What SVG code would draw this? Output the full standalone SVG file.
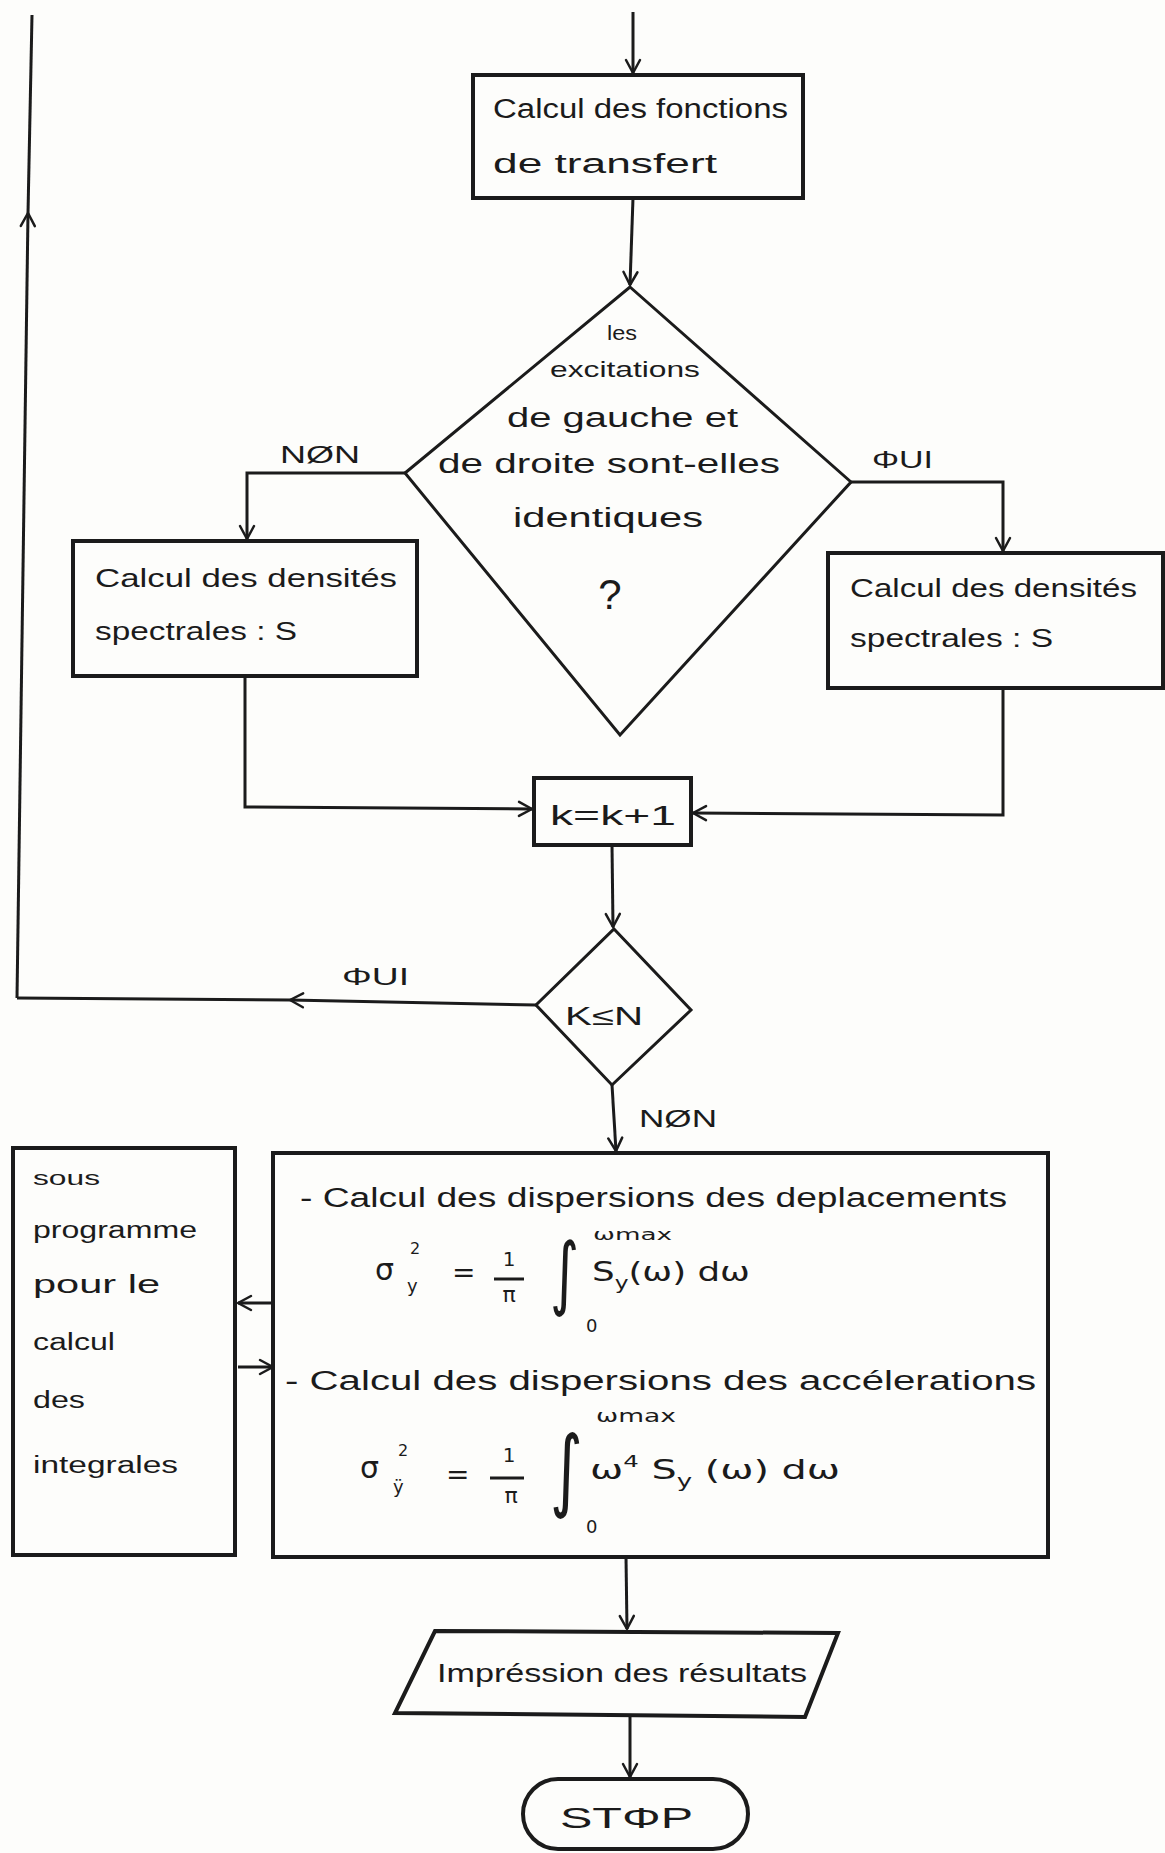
<svg xmlns="http://www.w3.org/2000/svg" width="1165" height="1853" viewBox="0 0 1165 1853">
<style>
.bg{fill:#fdfdfb}
.box{fill:none;stroke:#1b1b1b;stroke-width:4;stroke-linejoin:miter}
.dia{fill:none;stroke:#1b1b1b;stroke-width:3}
.c{fill:none;stroke:#1b1b1b;stroke-width:3}
.t{font-family:"Liberation Sans","DejaVu Sans",sans-serif;fill:#1b1b1b}
.m{font-family:"DejaVu Sans","Liberation Sans",sans-serif;fill:#1b1b1b}
.ah{fill:none;stroke:#1b1b1b;stroke-width:2.5;stroke-linecap:round;stroke-linejoin:round}
</style>
<defs>
<marker id="arr" viewBox="0 0 20 20" refX="18" refY="10" markerWidth="20" markerHeight="20" markerUnits="userSpaceOnUse" orient="auto">
<path class="ah" d="M5,3 L18,10 L5,17"/>
</marker>
</defs>
<rect class="bg" x="0" y="0" width="1165" height="1853"/>

<g id="connectors">
<path class="c" d="M633,12 L633,73" marker-end="url(#arr)"/>
<path class="c" d="M633,198 L630,285" marker-end="url(#arr)"/>
<path class="c" d="M405,473 L247,473 L247,539" marker-end="url(#arr)"/>
<path class="c" d="M851,482 L1003,482 L1003,551" marker-end="url(#arr)"/>
<path class="c" d="M245,676 L245,807 L532,809" marker-end="url(#arr)"/>
<path class="c" d="M1003,688 L1003,815 L693,813" marker-end="url(#arr)"/>
<path class="c" d="M612,845 L613,927" marker-end="url(#arr)"/>
<path class="c" d="M536,1005 L290,1000" marker-end="url(#arr)"/>
<path class="c" d="M290,1000 L17,998"/>
<path class="c" d="M17,998 L28,213" marker-end="url(#arr)"/>
<path class="c" d="M28,213 L32,15"/>
<path class="c" d="M612,1085 L616,1151" marker-end="url(#arr)"/>
<path class="c" d="M273,1303 L238,1303" marker-end="url(#arr)"/>
<path class="c" d="M238,1367 L273,1367" marker-end="url(#arr)"/>
<path class="c" d="M626,1557 L627,1629" marker-end="url(#arr)"/>
<path class="c" d="M630,1716 L630,1777" marker-end="url(#arr)"/>
</g>

<g id="n_transfert">
<rect class="box" x="473" y="75" width="330" height="123"/>
<text class="t" x="493" y="118" style="font-size:27px" textLength="295" lengthAdjust="spacingAndGlyphs">Calcul des fonctions</text>
<text class="t" x="493" y="173" style="font-size:27px" textLength="224" lengthAdjust="spacingAndGlyphs">de transfert</text>
</g>

<g id="n_question">
<path class="dia" d="M630,287 L851,482 L620,735 L405,473 Z"/>
<text class="t" x="622" y="340" text-anchor="middle" style="font-size:20px" textLength="30" lengthAdjust="spacingAndGlyphs">les</text>
<text class="t" x="625" y="377" text-anchor="middle" style="font-size:22px" textLength="150" lengthAdjust="spacingAndGlyphs">excitations</text>
<text class="t" x="507" y="427" style="font-size:27px" textLength="231" lengthAdjust="spacingAndGlyphs">de gauche et</text>
<text class="t" x="438" y="473" style="font-size:27px" textLength="342" lengthAdjust="spacingAndGlyphs">de droite sont-elles</text>
<text class="t" x="513" y="527" style="font-size:27px" textLength="190" lengthAdjust="spacingAndGlyphs">identiques</text>
<text class="t" x="610" y="609" text-anchor="middle" style="font-size:42px">?</text>
</g>

<g id="l_non1">
<text class="t" x="280" y="463" style="font-size:24px" textLength="80" lengthAdjust="spacingAndGlyphs">NØN</text>
</g>
<g id="l_oui1">
<text class="t" x="872" y="468" style="font-size:24px" textLength="61" lengthAdjust="spacingAndGlyphs">ΦUI</text>
</g>

<g id="n_densites_g">
<rect class="box" x="73" y="541" width="344" height="135"/>
<text class="t" x="95" y="587" style="font-size:26px" textLength="302" lengthAdjust="spacingAndGlyphs">Calcul des densités</text>
<text class="t" x="95" y="640" style="font-size:26px" textLength="202" lengthAdjust="spacingAndGlyphs">spectrales : S</text>
</g>

<g id="n_densites_d">
<rect class="box" x="828" y="553" width="335" height="135"/>
<text class="t" x="850" y="597" style="font-size:26px" textLength="287" lengthAdjust="spacingAndGlyphs">Calcul des densités</text>
<text class="t" x="850" y="647" style="font-size:26px" textLength="203" lengthAdjust="spacingAndGlyphs">spectrales : S</text>
</g>

<g id="n_k">
<rect class="box" x="534" y="778" width="157" height="67"/>
<text class="t" x="550" y="825" style="font-size:28px" textLength="126" lengthAdjust="spacingAndGlyphs">k=k+1</text>
</g>

<g id="n_kn">
<path class="dia" d="M614,929 L691,1010 L612,1085 L536,1005 Z"/>
<text class="t" x="565" y="1025" style="font-size:26px" textLength="78" lengthAdjust="spacingAndGlyphs">K≤N</text>
</g>

<g id="l_oui2">
<text class="t" x="342" y="985" style="font-size:24px" textLength="67" lengthAdjust="spacingAndGlyphs">ΦUI</text>
</g>
<g id="l_non2">
<text class="t" x="639" y="1127" style="font-size:24px" textLength="78" lengthAdjust="spacingAndGlyphs">NØN</text>
</g>

<g id="n_sousprog">
<rect class="box" x="13" y="1148" width="222" height="407"/>
<text class="t" x="33" y="1185" style="font-size:20px" textLength="67" lengthAdjust="spacingAndGlyphs">sous</text>
<text class="t" x="33" y="1238" style="font-size:23px" textLength="164" lengthAdjust="spacingAndGlyphs">programme</text>
<text class="t" x="33" y="1293" style="font-size:25px" textLength="127" lengthAdjust="spacingAndGlyphs">pour le</text>
<text class="t" x="33" y="1350" style="font-size:23px" textLength="82" lengthAdjust="spacingAndGlyphs">calcul</text>
<text class="t" x="33" y="1408" style="font-size:23px" textLength="52" lengthAdjust="spacingAndGlyphs">des</text>
<text class="t" x="33" y="1473" style="font-size:23px" textLength="145" lengthAdjust="spacingAndGlyphs">integrales</text>
</g>

<g id="n_dispersions">
<rect class="box" x="273" y="1153" width="775" height="404"/>
<text class="t" x="300" y="1207" style="font-size:27px" textLength="707" lengthAdjust="spacingAndGlyphs">- Calcul des dispersions des deplacements</text>
<text class="m" x="375" y="1280" font-size="30">σ</text>
<text class="m" x="407" y="1292" font-size="18">y</text>
<text class="m" x="410" y="1254" font-size="16">2</text>
<text class="m" x="452" y="1282" font-size="28">=</text>
<text class="m" x="509" y="1266" font-size="20" text-anchor="middle">1</text>
<line class="c" x1="494" y1="1279" x2="524" y2="1279"/>
<text class="m" x="509" y="1302" font-size="22" text-anchor="middle">π</text>
<text class="m" transform="translate(550,1300) scale(0.7,1)" x="0" y="0" font-size="80">∫</text>
<text class="m" x="586" y="1332" font-size="18">0</text>
<text class="m" x="593" y="1240" font-size="16" textLength="79" lengthAdjust="spacingAndGlyphs">ωmax</text>
<text class="m" x="592" y="1281" font-size="26" textLength="158" lengthAdjust="spacingAndGlyphs">S<tspan font-size="17" dy="8">y</tspan><tspan dy="-8">(ω) dω</tspan></text>

<text class="t" x="285" y="1390" style="font-size:27px" textLength="751" lengthAdjust="spacingAndGlyphs">- Calcul des dispersions des accélerations</text>
<text class="m" x="360" y="1478" font-size="30">σ</text>
<text class="m" x="393" y="1493" font-size="18">ÿ</text>
<text class="m" x="398" y="1456" font-size="16">2</text>
<text class="m" x="446" y="1484" font-size="28">=</text>
<text class="m" x="509" y="1462" font-size="20" text-anchor="middle">1</text>
<line class="c" x1="490" y1="1478" x2="524" y2="1478"/>
<text class="m" x="511" y="1503" font-size="22" text-anchor="middle">π</text>
<text class="m" transform="translate(550,1500) scale(0.7,1)" x="0" y="0" font-size="90">∫</text>
<text class="m" x="586" y="1533" font-size="18">0</text>
<text class="m" x="596" y="1422" font-size="17" textLength="80" lengthAdjust="spacingAndGlyphs">ωmax</text>
<text class="m" x="590" y="1479" font-size="26" textLength="250" lengthAdjust="spacingAndGlyphs">ω<tspan font-size="16" dy="-12">4</tspan><tspan dy="12"> S</tspan><tspan font-size="17" dy="8">y</tspan><tspan dy="-8"> (ω)  dω</tspan></text>
</g>

<g id="n_impression">
<path class="box" d="M435,1631 L838,1633 L805,1717 L395,1713 Z"/>
<text class="t" x="437" y="1682" style="font-size:26px" textLength="370" lengthAdjust="spacingAndGlyphs">Impréssion des résultats</text>
</g>

<g id="n_stop">
<rect class="box" x="523" y="1779" width="225" height="70" rx="35" ry="35"/>
<text class="t" x="560" y="1828" style="font-size:30px" textLength="133" lengthAdjust="spacingAndGlyphs">STΦP</text>
</g>
</svg>
